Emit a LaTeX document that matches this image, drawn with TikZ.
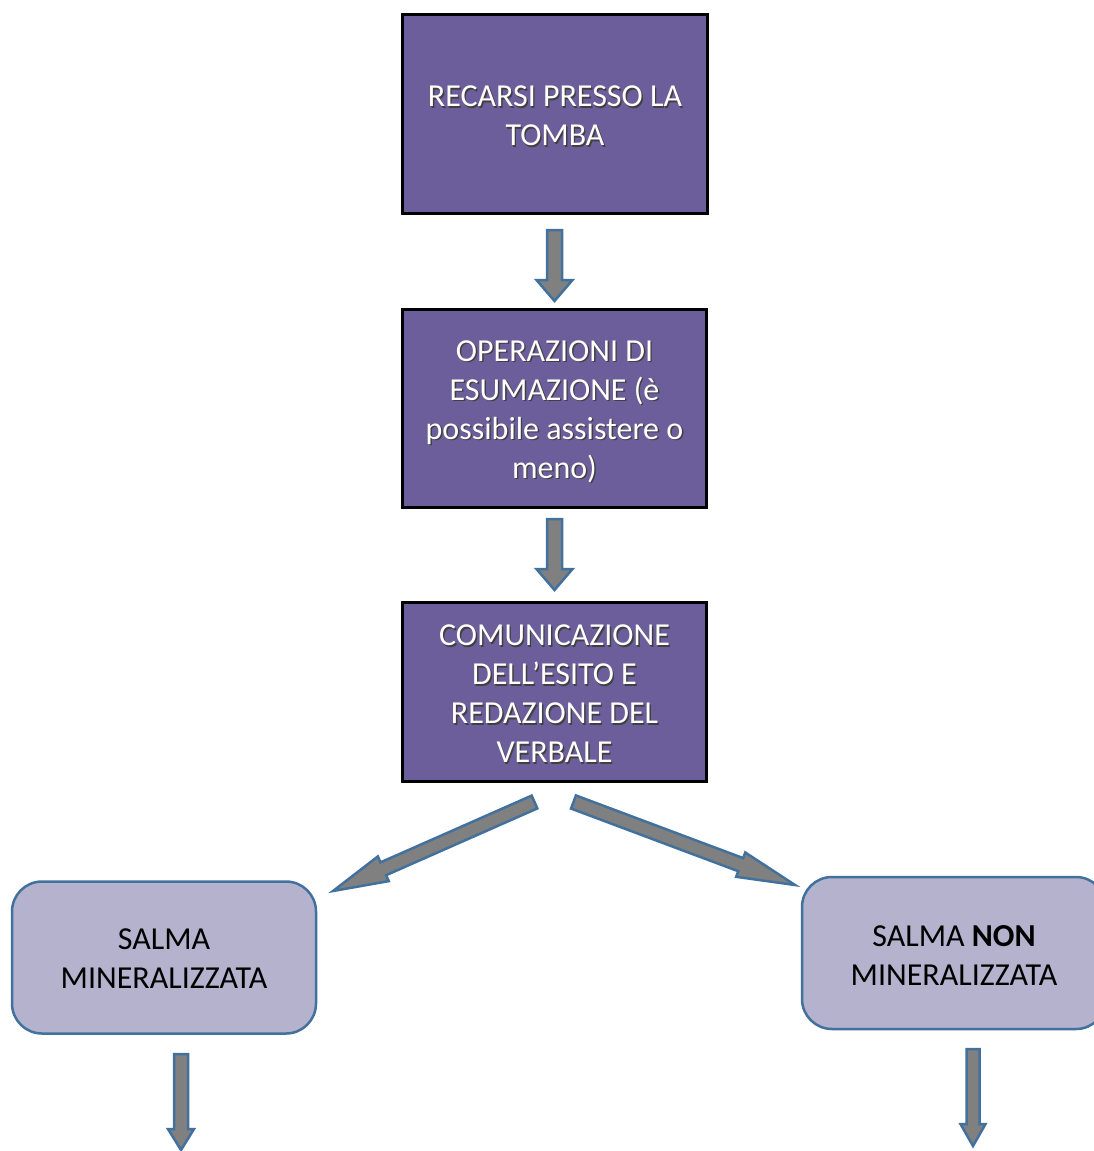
\documentclass[tikz,border=0pt]{standalone}
\usepackage{fontspec}
\setmainfont{Carlito}
\usetikzlibrary{calc}
\definecolor{boxpurple}{HTML}{6B5E9A}
\definecolor{boxlilac}{HTML}{B4B2CC}
\definecolor{edgeblue}{HTML}{41719C}
\definecolor{arrowgrey}{HTML}{808080}
\tikzset{
  mainbox/.style={draw=black, line width=2.5pt, fill=boxpurple, minimum width=304pt, inner sep=0pt},
  resultbox/.style={draw=edgeblue, line width=2.5pt, fill=boxlilac, minimum width=304pt, minimum height=152pt, rounded corners=30pt, inner sep=0pt},
  boxtext/.style={align=center, font=\fontsize{32}{39}\selectfont, inner sep=0pt},
  whitetext/.style={boxtext, text=white},
  shadowtext/.style={boxtext, text=black!75},
  blockarrow/.style={draw=edgeblue, line width=2.5pt, fill=arrowgrey, line join=miter},
}
% \barrow{from}{to}{half shaft}{half head}{head length}
\newcommand\barrow[5]{%
  \coordinate (#1#2h) at ($(#2)!#5pt!(#1)$);
  \draw[blockarrow]
    ($(#1)!#3pt!90:(#2)$) -- ($(#1#2h)!#3pt!-90:(#1)$) -- ($(#1#2h)!#4pt!-90:(#1)$)
    -- (#2) -- ($(#1#2h)!#4pt!90:(#1)$) -- ($(#1#2h)!#3pt!90:(#1)$)
    -- ($(#1)!#3pt!-90:(#2)$) -- cycle;}
\begin{document}
\begin{tikzpicture}[x=1pt, y=-1pt]
\useasboundingbox (0,0) rectangle (1094,1151);
\clip (0,0) rectangle (1094,1151);
\fill[white] (0,0) rectangle (1094,1151);
% main boxes
\node[mainbox, minimum width=305pt, minimum height=199pt] (b1) at (555,114) {};
\node[shadowtext] (b1s) at ($(b1)+(1.4,3.4)$) {RECARSI PRESSO LA\\TOMBA};
\node[whitetext] (b1t) at ($(b1)+(0,2)$) {RECARSI PRESSO LA\\TOMBA};
\node[mainbox, minimum width=304pt, minimum height=198pt] (b2) at (554.5,408.5) {};
\node[shadowtext] (b2s) at ($(b2)+(1.4,4.4)$) {OPERAZIONI DI\\ESUMAZIONE (è\\possibile assistere o\\meno)};
\node[whitetext] (b2t) at ($(b2)+(0,3)$) {OPERAZIONI DI\\ESUMAZIONE (è\\possibile assistere o\\meno)};
\node[mainbox, minimum width=304pt, minimum height=179pt] (b3) at (554.5,692) {};
\node[shadowtext] (b3s) at ($(b3)+(1.4,3.4)$) {COMUNICAZIONE\\DELL’ESITO E\\REDAZIONE DEL\\VERBALE};
\node[whitetext] (b3t) at ($(b3)+(0,2)$) {COMUNICAZIONE\\DELL’ESITO E\\REDAZIONE DEL\\VERBALE};
% result boxes
\node[resultbox] (l) at (164,957.5) {};
\node[boxtext] (lt) at ($(l)+(0,1)$) {SALMA\\MINERALIZZATA};
\node[resultbox] (r) at (954,953) {};
\node[boxtext] (rt) at (954,955.5) {SALMA \textbf{NON}\\MINERALIZZATA};
% arrow end points
\coordinate (a1s) at (554.5,230);
\coordinate (a1e) at (554.5,301);
\coordinate (a2s) at (554.5,519);
\coordinate (a2e) at (554.5,590);
\coordinate (a3s) at (534.5,802);
\coordinate (a3e) at (333,891);
\coordinate (a4s) at (573.5,802);
\coordinate (a4e) at (795,885);
\coordinate (a5s) at (181,1054);
\coordinate (a5e) at (181,1150);
\coordinate (a6s) at (973,1049);
\coordinate (a6e) at (973,1146);
\barrow{a1s}{a1e}{7.5}{18}{21}
\barrow{a2s}{a2e}{7.5}{18}{21}
\barrow{a3s}{a3e}{7}{13.5}{55}
\barrow{a4s}{a4e}{7}{13}{58}
\barrow{a5s}{a5e}{7}{13}{21}
\barrow{a6s}{a6e}{6.5}{12.5}{22}
\end{tikzpicture}
\end{document}
